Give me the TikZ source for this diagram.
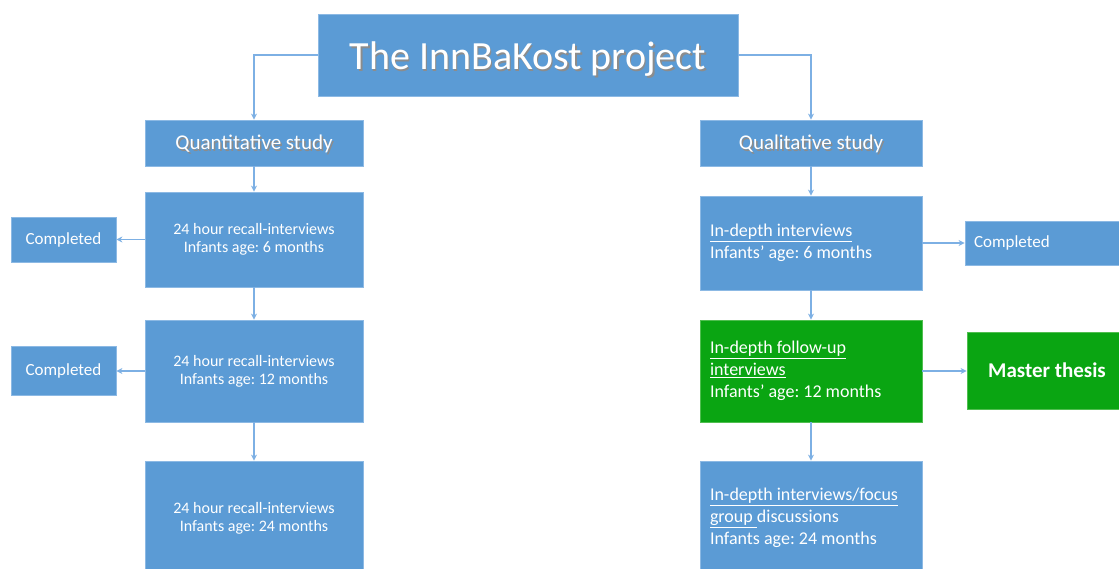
\documentclass[tikz,border=0pt]{standalone}
\usepackage{fontspec}
\setmainfont{Carlito}
\usetikzlibrary{arrows.meta}
\definecolor{boxblue}{RGB}{91,155,213}
\definecolor{boxedge}{RGB}{140,185,228}
\definecolor{boxgreen}{RGB}{10,165,18}
\definecolor{greenedge}{RGB}{80,190,80}
\definecolor{linecol}{RGB}{125,176,228}
\newcommand\shtxt[1]{\makebox[0pt][l]{\raisebox{-1.6pt}{\hspace{1.6pt}\textcolor{black!45}{#1}}}#1}
\tikzset{
  box/.style={fill=boxblue, draw=boxedge, line width=0.8pt, text=white, inner sep=0pt, align=center},
  gbox/.style={box, fill=boxgreen, draw=greenedge},
  arr/.style={draw=linecol, line width=1.3pt, -{Stealth[length=6pt,width=6pt]}},
  small/.style={font=\fontsize{16}{18}\selectfont},
  mid/.style={font=\fontsize{18}{22}\selectfont},
}
\begin{document}
\frenchspacing
\begin{tikzpicture}[x=1pt,y=-1pt]
\useasboundingbox (0,0) rectangle (1119,569);
\clip (0,0) rectangle (1119,569);
\fill[white] (0,0) rectangle (1119,569);

\node[box, minimum width=420pt, minimum height=82pt, font=\fontsize{40}{44}\selectfont] (title) at (528,55) {\raisebox{-5pt}[\height][\depth]{\shtxt{The InnBaKost project}}};

\node[box, minimum width=218pt, minimum height=46pt, font=\fontsize{21}{24}\selectfont] (quant) at (254,143) {\raisebox{-2pt}[\height][\depth]{\shtxt{Quantitative study}}};
\node[box, minimum width=222pt, minimum height=46pt, font=\fontsize{21}{24}\selectfont] (qual) at (811,143) {\raisebox{-2pt}[\height][\depth]{\shtxt{Qualitative study}}};

\node[box, small, minimum width=218pt, minimum height=95pt] (q1) at (254,239.5) {24 hour recall-interviews\\Infants age: 6 months};
\node[box, small, minimum width=218pt, minimum height=102pt] (q2) at (254,371) {24 hour recall-interviews\\Infants age: 12 months};
\node[box, small, minimum width=218pt, minimum height=114pt] (q3) at (254,518) {24 hour recall-interviews\\Infants age: 24 months};

\node[box, minimum width=105pt, minimum height=45pt, font=\fontsize{17}{20}\selectfont] (cl1) at (63.5,239.5) {Completed};
\node[box, minimum width=105pt, minimum height=49pt, font=\fontsize{17}{20}\selectfont] (cl2) at (63.5,370.5) {Completed};

\node[box, mid, minimum width=222pt, minimum height=94pt, text width=202pt, align=flush left] (r1) at (811,243) {\underline{In-depth interviews}\\Infants' age: 6 months};
\node[gbox, mid, minimum width=222pt, minimum height=102pt, text width=202pt, align=flush left] (r2) at (811,371) {\underline{In-depth follow-up}\\\underline{interviews}\\Infants' age: 12 months};
\node[box, mid, minimum width=222pt, minimum height=114pt, text width=202pt, align=flush left] (r3) at (811,518) {\underline{In-depth interviews/focus}\\\underline{group }discussions\\Infants age: 24 months};

\node[box, minimum width=175pt, minimum height=44pt, text width=157pt, align=flush left, font=\fontsize{17}{20}\selectfont] (cr) at (1052.5,243) {Completed};
\node[gbox, minimum width=160pt, minimum height=77pt, font=\fontsize{21}{24}\selectfont\bfseries] (mt) at (1047,370.5) {Master thesis};

\draw[arr] (title.west) -| (quant.north);
\draw[arr] (title.east) -| (qual.north);
\draw[arr] (quant.south) -- (q1.north);
\draw[arr] (q1.south) -- (q2.north);
\draw[arr] (q2.south) -- (q3.north);
\draw[arr] (q1.west) -- (q1.west -| cl1.east);
\draw[arr] (q2.west) -- (q2.west -| cl2.east);
\draw[arr] (qual.south) -- (r1.north);
\draw[arr] (r1.south) -- (r2.north);
\draw[arr] (r2.south) -- (r3.north);
\draw[arr] (r1.east) -- (r1.east -| cr.west);
\draw[arr] (r2.east) -- (r2.east -| mt.west);
\end{tikzpicture}
\end{document}
